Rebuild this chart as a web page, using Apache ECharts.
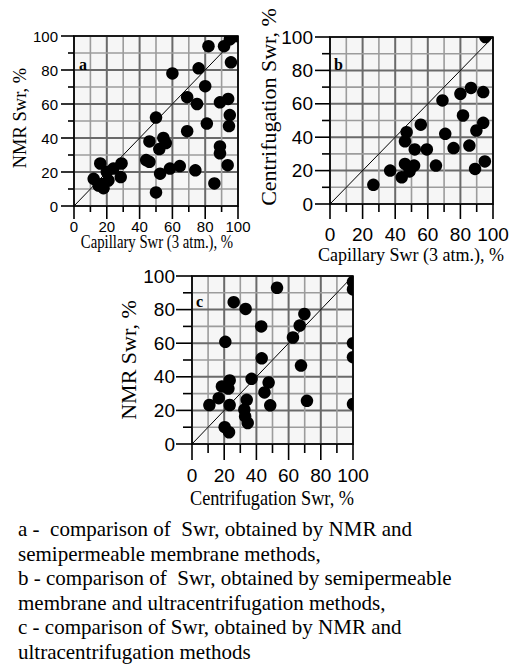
<!DOCTYPE html>
<html>
<head>
<meta charset="utf-8">
<script src="https://cdn.jsdelivr.net/npm/echarts@6/dist/echarts.min.js"></script>
<style>
html,body{margin:0;padding:0;background:#fff;}
#chart{width:519px;height:667px;}
</style>
</head>
<body>
<div id="chart"></div>
<script>
// ---- data ----
var tickValues = [0, 20, 40, 60, 80, 100];
var gridValues = [0, 10, 20, 30, 40, 50, 60, 70, 80, 90, 100];
var frame = [[0, 0, 100, 100]];
var diag = [[0, 0], [100, 100]];

var pointsA = [
  [12,16],[16,25],[18,10.5],[17,13],[21,15],[20,20],[24,22],[29,25],[28.5,17],[15,12],
  [44,27],[46,26],[46,38],[50,52],[54.5,40],[56,37],[52,33.5],[52.5,19],[50,8],[58.5,22],
  [64.5,23.5],[74,21],[60,78],[76,81],[80,70.5],[69,64],[75,60],[69,44],[81,48.5],[89,61],
  [94,63],[95,53.5],[94.5,47],[89,35],[89,31],[93.7,24],[85.6,13.3],[82,94],[91.5,94],
  [95,98],[98,100],[100,100],[95.7,84.5]
];
var pointsB = [
  [95.3,100],[69,62],[80,66],[86.5,69.5],[94,67],[81.6,53],[94,48.6],[89.8,44],[70.7,42],
  [85.5,35],[75.8,33.5],[55.7,47.5],[47,43],[46,37.5],[52,32.7],[59.4,32.7],[46,24],
  [48.8,19.5],[51.6,23],[44,16],[36.9,20],[26.6,11.5],[65,23],[89,21],[95,25.5]
];
var pointsC = [
  [52.8,93],[100,96.5],[100,92],[100,60],[100,51.7],[100,23.8],[25.9,84.4],[33.3,80.4],
  [43,70],[20.7,60.8],[69.8,77.4],[66.9,70.5],[62.7,63.4],[67.7,46.7],[43.3,51],[37,38.8],
  [23.4,37.8],[22.6,33],[18.6,34.3],[16.6,27.3],[10.8,23.2],[23.4,23.2],[34,26.3],[32.5,20.4],
  [33,16.4],[34.6,12.5],[20.3,10],[23,7],[47.6,36.6],[45,30.7],[48.6,23],[71.4,25.7]
];

var panelLabels = ['a', 'b', 'c'];
var xTitles = ['Capillary Swr (3 atm.), %', 'Capillary Swr (3 atm.), %', 'Centrifugation Swr, %'];
var yTitles = ['NMR Swr, %', 'Centrifugation Swr, %', 'NMR Swr, %'];
var captionLines = [
  'a -\u00a0 comparison of\u00a0 Swr, obtained by NMR and',
  'semipermeable membrane methods,',
  'b - comparison of\u00a0 Swr, obtained by semipermeable',
  'membrane and ultracentrifugation methods,',
  'c - comparison of Swr, obtained by NMR and',
  'ultracentrifugation methods'
];

// ---- layout ----
var grids = [
  {left: 74, top: 36, width: 164, height: 170},
  {left: 330, top: 37, width: 163, height: 167},
  {left: 192, top: 276, width: 161, height: 168}
];
var tickFont = [15, 19, 19];
var xMargin = [13, 21, 22];
var yMargin = [16, 17, 17];
var majorLen = [13, 15, 16];
var minorLen = [6, 8, 9];
var DOT_R = 6.25;

function makeAxis(i, isX) {
  return {
    type: 'value', gridIndex: i, min: 0, max: 100, interval: 20,
    axisLine: {show: true, onZero: false, lineStyle: {color: '#000', width: 1.5}},
    axisTick: {show: false},
    splitLine: {show: false},
    axisLabel: {
      color: '#000', fontFamily: 'Liberation Sans, Arial, sans-serif',
      fontSize: tickFont[i], margin: isX ? xMargin[i] : yMargin[i],
      showMinLabel: true, showMaxLabel: true,
      formatter: function (v) { return tickValues.indexOf(v) >= 0 ? String(v) : ''; }
    }
  };
}

function bgRender(params, api) {
  var p0 = api.coord([api.value(0), api.value(1)]);
  var p1 = api.coord([api.value(2), api.value(3)]);
  return {type: 'rect', silent: true,
    shape: {x: p0[0], y: p1[1], width: p1[0] - p0[0], height: p0[1] - p1[1]},
    style: {fill: '#f6f6f6'}};
}

function makeGridRender(idx) {
  return function (params, api) {
    var v = api.value(0);
    var major = tickValues.indexOf(v) >= 0;
    var col = major ? '#6a6a6a' : '#9c9c9c';
    var w = major ? 2 : 1.6;
    var xb = api.coord([v, 0]), xt = api.coord([v, 100]);
    var yl = api.coord([0, v]), yr = api.coord([100, v]);
    var tl = major ? majorLen[idx] : minorLen[idx];
    var children = [
      {type: 'line', shape: {x1: xb[0], y1: xb[1], x2: xt[0], y2: xt[1]},
        style: {stroke: col, lineWidth: w}},
      {type: 'line', shape: {x1: yl[0], y1: yl[1], x2: yr[0], y2: yr[1]},
        style: {stroke: col, lineWidth: w}},
      {type: 'line', shape: {x1: xb[0], y1: xb[1], x2: xb[0], y2: xb[1] + tl},
        style: {stroke: '#000', lineWidth: 1.6}},
      {type: 'line', shape: {x1: yl[0], y1: yl[1], x2: yl[0] - tl, y2: yl[1]},
        style: {stroke: '#000', lineWidth: 1.6}}
    ];
    return {type: 'group', silent: true, children: children};
  };
}

function frameRender(params, api) {
  var p0 = api.coord([api.value(0), api.value(1)]);
  var p1 = api.coord([api.value(2), api.value(3)]);
  return {type: 'rect', silent: true,
    shape: {x: p0[0], y: p1[1], width: p1[0] - p0[0], height: p0[1] - p1[1]},
    style: {fill: 'none', stroke: '#000', lineWidth: 1.6}};
}

function dotRender(params, api) {
  var p = api.coord([api.value(0), api.value(1)]);
  return {type: 'circle', shape: {cx: p[0], cy: p[1], r: DOT_R}, style: {fill: '#000'}};
}

var xAxes = [], yAxes = [], series = [];
var sets = [pointsA, pointsB, pointsC];
for (var i = 0; i < 3; i++) {
  xAxes.push(makeAxis(i, true));
  yAxes.push(makeAxis(i, false));
  series.push({type: 'custom', xAxisIndex: i, yAxisIndex: i, data: frame,
    encode: {x: [0, 2], y: [1, 3]}, renderItem: bgRender, clip: false, silent: true, z: 1});
  series.push({type: 'custom', xAxisIndex: i, yAxisIndex: i,
    data: gridValues.map(function (v) { return [v, v]; }),
    encode: {x: 0, y: 1}, renderItem: makeGridRender(i), clip: false, silent: true, z: 2});
  series.push({type: 'custom', xAxisIndex: i, yAxisIndex: i, data: frame,
    encode: {x: [0, 2], y: [1, 3]}, renderItem: frameRender, clip: false, silent: true, z: 3});
  series.push({type: 'line', xAxisIndex: i, yAxisIndex: i, data: diag,
    symbol: 'none', silent: true, z: 4, lineStyle: {color: '#000', width: 1}});
  series.push({type: 'custom', xAxisIndex: i, yAxisIndex: i, data: sets[i],
    encode: {x: 0, y: 1}, renderItem: dotRender, clip: true, silent: true, z: 5});
}

var serif = 'Liberation Serif, Times New Roman, serif';
var graphics = [];
var letterPos = [[79, 64], [334, 64], [196, 301]];
for (var k = 0; k < 3; k++) {
  graphics.push({type: 'text', x: letterPos[k][0], y: letterPos[k][1], z: 10,
    style: {text: panelLabels[k], fontFamily: serif, fontWeight: 'bold', fontSize: 16,
      fill: '#000', verticalAlign: 'middle', align: 'left'}});
}
// [x, y, fontSize, horizontal squeeze]
var xTitlePos = [[157, 242, 18, 0.82], [411, 255, 18, 1], [272, 498, 21, 0.87]];
var yTitlePos = [[20, 118, 18.5], [268, 107, 22], [128, 360, 22]];
for (var m = 0; m < 3; m++) {
  graphics.push({type: 'text', x: xTitlePos[m][0], y: xTitlePos[m][1], scaleX: xTitlePos[m][3],
    style: {text: xTitles[m], fontFamily: serif, fontSize: xTitlePos[m][2], fill: '#000',
      align: 'center', verticalAlign: 'middle'}});
  graphics.push({type: 'text', x: yTitlePos[m][0], y: yTitlePos[m][1], rotation: Math.PI / 2,
    style: {text: yTitles[m], fontFamily: serif, fontSize: yTitlePos[m][2], fill: '#000',
      align: 'center', verticalAlign: 'middle'}});
}
for (var n = 0; n < captionLines.length; n++) {
  graphics.push({type: 'text', x: 18, y: 529 + n * 24.6,
    style: {text: captionLines[n], fontFamily: serif, fontSize: 21, fill: '#000',
      align: 'left', verticalAlign: 'middle'}});
}

var chart = echarts.init(document.getElementById('chart'), null, {renderer: 'svg'});
chart.setOption({
  animation: false,
  backgroundColor: '#fff',
  grid: grids,
  xAxis: xAxes,
  yAxis: yAxes,
  series: series,
  graphic: graphics
});
</script>
</body>
</html>
